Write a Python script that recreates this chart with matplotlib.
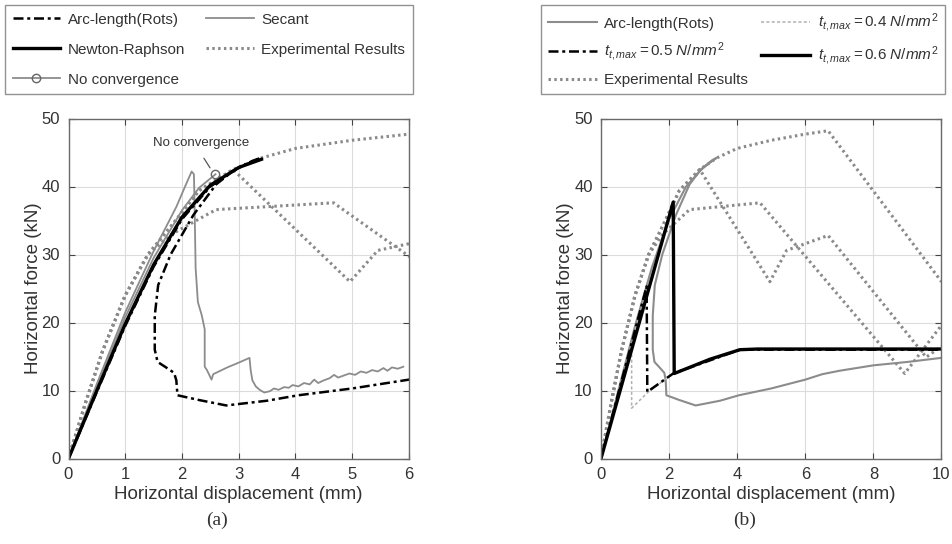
import matplotlib
matplotlib.use('Agg')
import matplotlib.pyplot as plt
from matplotlib.lines import Line2D

plt.rcParams['font.family'] = ['Liberation Sans', 'DejaVu Sans']
plt.rcParams['mathtext.fontset'] = 'custom'
plt.rcParams['mathtext.rm'] = 'Liberation Sans'
plt.rcParams['mathtext.it'] = 'Liberation Sans:italic'
plt.rcParams['mathtext.bf'] = 'Liberation Sans:bold'

# ---------------- data ----------------
y_ticks = [0, 10, 20, 30, 40, 50]
xticks_a = [0, 1, 2, 3, 4, 5, 6]
xticks_b = [0, 2, 4, 6, 8, 10]

# experimental results (three tests)
expA_x = [0, 0.3, 0.6, 1.0, 1.4, 1.85, 2.3, 2.9, 4.96, 5.45, 6.67, 9.55, 10.0]
expA_y = [0, 8.2, 15.8, 24.0, 30.0, 34.6, 39.4, 42.5, 26.0, 30.6, 32.8, 14.9, 16.5]
expB_x = [0, 0.3, 0.6, 1.0, 1.4, 1.82, 2.6, 4.67, 8.92, 10.0]
expB_y = [0, 8.2, 15.8, 24.0, 30.0, 33.0, 36.6, 37.6, 12.5, 19.6]
expC_x = [0, 0.3, 0.6, 1.0, 1.4, 1.85, 2.3, 2.9, 3.4, 4.0, 5.0, 6.0, 6.67, 10.0]
expC_y = [0, 8.2, 15.8, 24.0, 30.0, 34.6, 39.4, 42.5, 44.2, 45.6, 46.8, 47.7, 48.2, 26.0]

# Newton-Raphson
nr_x = [0, 0.5, 1.0, 1.5, 2.0, 2.5, 3.0, 3.4]
nr_y = [0, 10.0, 19.8, 28.5, 35.5, 40.2, 42.8, 44.0]

# Arc-length (Rots)
arc_x = [0, 0.5, 1.0, 1.5, 2.0, 2.5, 3.0, 3.39, 3.25, 2.9, 2.6, 2.2, 1.8, 1.58, 1.52,
         1.52, 1.57, 1.7, 1.86, 1.9, 1.92, 2.3, 2.78, 3.5, 4.05, 5.0, 6.0, 6.5, 7.0, 8.0, 9.0, 10.0]
arc_y = [0, 9.8, 19.5, 28.2, 35.2, 40.0, 42.8, 44.2, 43.8, 42.3, 40.3, 35.8, 30.0, 25.5, 21.0,
         16.0, 14.2, 13.5, 12.6, 11.5, 9.3, 8.6, 7.8, 8.5, 9.3, 10.3, 11.6, 12.4, 12.9, 13.7, 14.2, 14.8]

# Secant
sec_x = [0, 0.5, 1.0, 1.5, 1.9, 2.08, 2.17, 2.21, 2.22, 2.24, 2.28, 2.35, 2.4, 2.4, 2.44, 2.48,
         2.52, 2.55, 2.6, 2.8, 3.0, 3.19, 3.21, 3.24, 3.3, 3.37, 3.45, 3.55, 3.62, 3.7, 3.8, 3.88,
         3.95, 4.05, 4.15, 4.25, 4.33, 4.4, 4.5, 4.6, 4.68, 4.75, 4.85, 4.95, 5.05, 5.15, 5.25,
         5.35, 5.45, 5.55, 5.62, 5.7, 5.8, 5.9]
sec_y = [0, 11.0, 21.5, 30.5, 37.0, 40.5, 42.2, 41.8, 38.0, 28.0, 23.0, 21.0, 19.0, 13.5, 13.0, 12.3,
         11.6, 12.4, 12.6, 13.4, 14.1, 14.8, 13.0, 11.5, 10.6, 10.1, 9.7, 9.9, 10.3, 10.1, 10.5, 10.4,
         10.8, 10.6, 11.1, 10.9, 11.6, 11.1, 11.5, 11.8, 12.3, 11.9, 12.2, 12.5, 12.3, 12.8, 12.6,
         13.0, 12.8, 13.3, 12.9, 13.4, 13.2, 13.5]

# No convergence
nc_x = [0, 0.5, 1.0, 1.5, 2.0, 2.3, 2.59]
nc_y = [0, 10.5, 20.8, 29.5, 36.5, 39.8, 41.8]

# t_t,max variants
t04_x = [0, 0.9, 0.9, 1.39, 2.12, 4.08, 10.0]
t04_y = [0, 16.4, 7.4, 9.8, 12.5, 16.0, 16.0]
t05_x = [0, 1.34, 1.36, 2.12, 4.08, 10.0]
t05_y = [0, 25.3, 9.8, 12.5, 16.0, 16.0]
t06_x = [0, 2.12, 2.15, 3.2, 4.08, 4.6, 10.0]
t06_y = [0, 37.7, 12.5, 14.6, 16.0, 16.1, 16.1]

# ---------------- styles ----------------
EXP = dict(color='#8a8a8a', lw=2.2, linestyle=(0, (0.8, 1.1)))
GRAY = '#8c8c8c'
DASHDOT = (0, (4, 1.5, 1.2, 1.5))
TXT = '#333333'

W, H = 953, 544
fig = plt.figure(figsize=(W / 100, H / 100), dpi=100)


def axrect(l, r, t, b):
    return [l / W, 1 - b / H, (r - l) / W, (b - t) / H]


axA = fig.add_axes(axrect(68.5, 409, 118.5, 458.5))
axB = fig.add_axes(axrect(601, 941.5, 118.5, 458.5))


def style(ax, xmax, xt):
    ax.set_xlim(0, xmax)
    ax.set_ylim(0, 50)
    ax.set_xticks(xt)
    ax.set_yticks(y_ticks)
    ax.grid(True, color='#dcdcdc', lw=0.8)
    ax.set_axisbelow(True)
    ax.tick_params(direction='in', length=4, top=True, right=True, labelsize=12,
                   colors='#444444', labelcolor=TXT, pad=6)
    for s in ax.spines.values():
        s.set_color('#6a6a6a')
        s.set_linewidth(1.0)
    ax.set_xlabel('Horizontal displacement (mm)', fontsize=13.5, color=TXT, labelpad=3)
    ax.set_ylabel('Horizontal force (kN)', fontsize=13.5, color=TXT, labelpad=0)


# ---------- panel (a) ----------
for ex, ey in [(expA_x, expA_y), (expB_x, expB_y), (expC_x, expC_y)]:
    axA.plot(ex, ey, **EXP)
axA.plot(sec_x, sec_y, color=GRAY, lw=1.3)
axA.plot(nc_x, nc_y, color=GRAY, lw=1.3, marker='o', markevery=[-1], ms=6,
         mfc='none', mec='#666666')
axA.plot(nr_x, nr_y, color='black', lw=2.4)
axA.plot(arc_x, arc_y, color='black', lw=1.8, linestyle=DASHDOT)
style(axA, 6, xticks_a)
axA.annotate('', xy=(2.52, 42.4), xytext=(2.36, 44.5),
             arrowprops=dict(arrowstyle='-', color='#555555', lw=0.9))
axA.text(2.33, 46.4, 'No convergence', ha='center', va='center', fontsize=9.5, color=TXT)

# ---------- panel (b) ----------
for ex, ey in [(expA_x, expA_y), (expB_x, expB_y), (expC_x, expC_y)]:
    axB.plot(ex, ey, **EXP)
axB.plot(arc_x, arc_y, color=GRAY, lw=1.5)
axB.plot(t04_x, t04_y, color='#b0b0b0', lw=1.1, linestyle=(0, (2, 1.5)))
axB.plot(t05_x, t05_y, color='black', lw=1.8, linestyle=DASHDOT)
axB.plot(t06_x, t06_y, color='black', lw=2.4)
style(axB, 10, xticks_b)

# ---------- legends ----------
hA = [Line2D([], [], color='black', lw=1.8, linestyle=DASHDOT),
      Line2D([], [], color='black', lw=2.4),
      Line2D([], [], color=GRAY, lw=1.3, marker='o', ms=6, mfc='none', mec='#666666'),
      Line2D([], [], color=GRAY, lw=1.3),
      Line2D([], [], **EXP)]
lA = ['Arc-length(Rots)', 'Newton-Raphson', 'No convergence', 'Secant', 'Experimental Results']
legA = fig.legend(hA, lA, loc='upper left', bbox_to_anchor=(5 / W, 1 - 92 / H, 408 / W, 87 / H),
                  mode='expand', ncol=2, fontsize=11, frameon=True, fancybox=False,
                  edgecolor='#777777', handlelength=3.1, handletextpad=0.5,
                  labelspacing=1.05, borderaxespad=0, borderpad=0.5, labelcolor=TXT)
legA.get_frame().set_linewidth(1.0)

tl = lambda v: r'$\mathit{t}_{\mathit{t,max}}\mathit{=%s\ N/mm}^{\mathit{2}}$' % v
hB = [Line2D([], [], color=GRAY, lw=1.5),
      Line2D([], [], color='black', lw=1.8, linestyle=DASHDOT),
      Line2D([], [], **EXP),
      Line2D([], [], color='#b0b0b0', lw=1.1, linestyle=(0, (2, 1.5))),
      Line2D([], [], color='black', lw=2.4)]
lB = ['Arc-length(Rots)', tl('0.5'), 'Experimental Results', tl('0.4'), tl('0.6')]
legB = fig.legend(hB, lB, loc='upper left', bbox_to_anchor=(541 / W, 1 - 92 / H, 404 / W, 87 / H),
                  mode='expand', ncol=2, fontsize=11, frameon=True, fancybox=False,
                  edgecolor='#777777', handlelength=3.2, handletextpad=0.5,
                  labelspacing=0.65, borderaxespad=0, borderpad=0.45, labelcolor=TXT)
legB.get_frame().set_linewidth(1.0)

# ---------- panel tags ----------
fig.text(217 / W, 1 - 520 / H, '(a)', ha='center', va='center', fontsize=14,
         family='Liberation Serif', color=TXT)
fig.text(745 / W, 1 - 520 / H, '(b)', ha='center', va='center', fontsize=14,
         family='Liberation Serif', color=TXT)

fig.savefig('out.png', dpi=100)
